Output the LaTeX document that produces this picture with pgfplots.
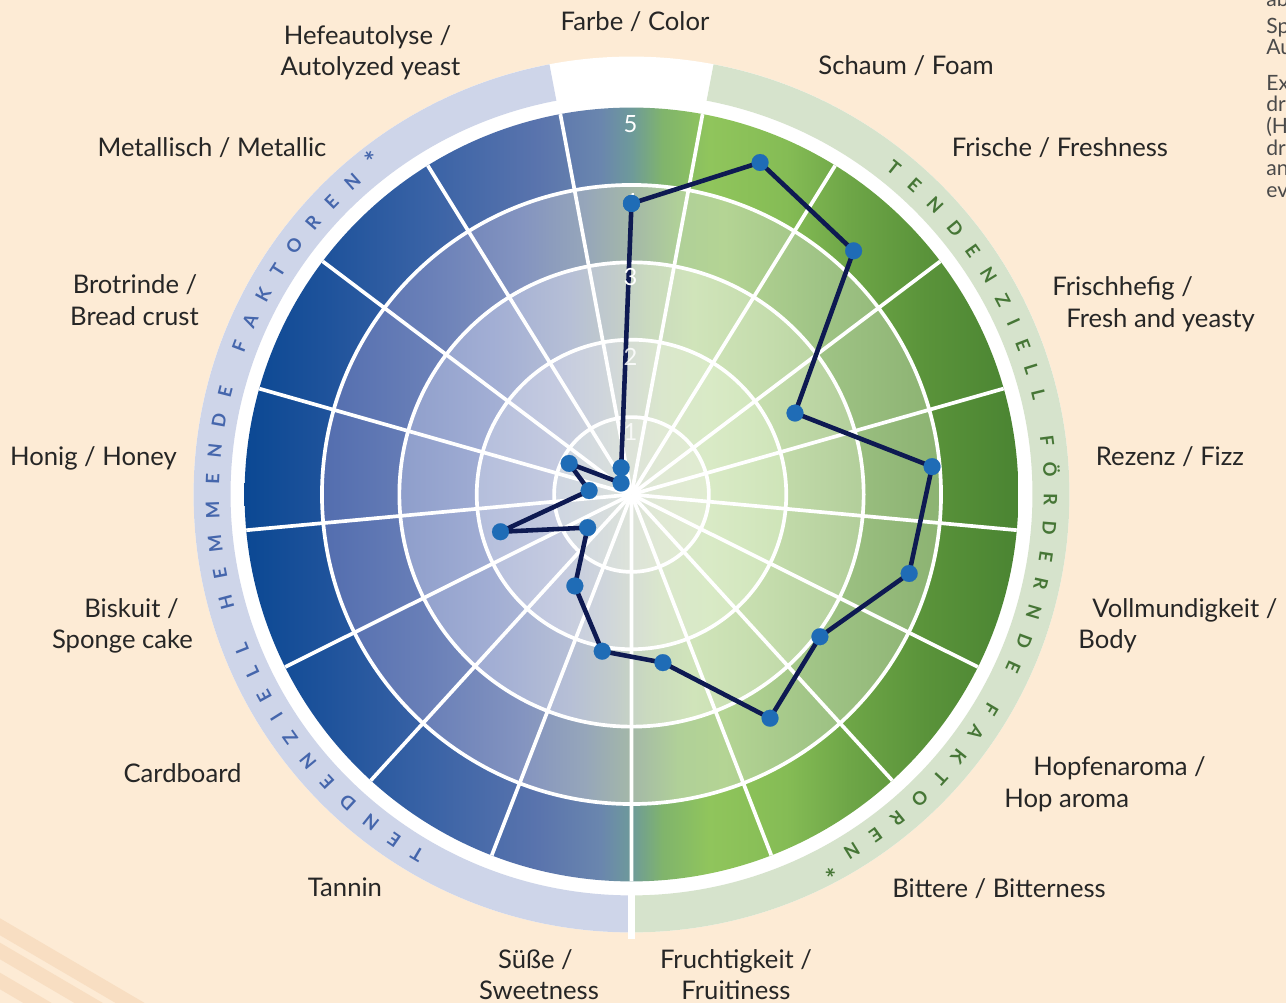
\documentclass[border=0pt]{standalone}
\usepackage{fontspec}
\setmainfont{Lato}
\usepackage{pgfplots}
\pgfplotsset{compat=1.18}
\usepackage{pgfplotstable}
\usetikzlibrary{calc,decorations.text}

\definecolor{bg}{HTML}{FDEBD5}
\definecolor{stripe}{HTML}{F8DEC2}
\definecolor{ringL}{HTML}{CED5E9}
\definecolor{ringR}{HTML}{D6E3CC}
\definecolor{txtL}{HTML}{4566AC}
\definecolor{txtR}{HTML}{467636}
\definecolor{navy}{HTML}{0E1A52}
\definecolor{mblue}{HTML}{1F6CB6}
\definecolor{labc}{HTML}{262626}
\definecolor{sidec}{HTML}{4A4A4A}

% outer band
\definecolor{fa}{HTML}{0B4893}\definecolor{fb}{HTML}{1D529B}\definecolor{fc}{HTML}{3A63A6}
\definecolor{fd}{HTML}{5A74AD}\definecolor{fe}{HTML}{6A86AE}\definecolor{ff}{HTML}{6E9A9A}
\definecolor{fg}{HTML}{80B46C}\definecolor{fh}{HTML}{90C55C}\definecolor{fi}{HTML}{85BC55}
\definecolor{fj}{HTML}{6EA647}\definecolor{fk}{HTML}{5A933A}\definecolor{fl}{HTML}{4A8432}
\pgfdeclarehorizontalshading{sfive}{100bp}{color(0bp)=(fa); color(25bp)=(fa); color(30bp)=(fb); color(37bp)=(fc); color(44bp)=(fd); color(48bp)=(fe); color(50bp)=(ff); color(52bp)=(fg); color(55bp)=(fh); color(60bp)=(fi); color(64bp)=(fj); color(69bp)=(fk); color(75bp)=(fl); color(100bp)=(fl)}
% band 3-4
\definecolor{da}{HTML}{4A64A8}\definecolor{db}{HTML}{5670B0}\definecolor{dc}{HTML}{6A80B8}
\definecolor{dd}{HTML}{8494C0}\definecolor{de}{HTML}{96A6BA}\definecolor{df}{HTML}{A4B8A8}
\definecolor{dg}{HTML}{B0D098}\definecolor{dh}{HTML}{B4D494}\definecolor{di}{HTML}{A0C486}
\definecolor{dj}{HTML}{90B676}\definecolor{dk}{HTML}{84AC68}
\pgfdeclarehorizontalshading{sfour}{100bp}{color(0bp)=(da); color(25bp)=(da); color(31bp)=(db); color(37bp)=(dc); color(43bp)=(dd); color(47bp)=(de); color(50bp)=(df); color(53bp)=(dg); color(56bp)=(dh); color(62bp)=(di); color(68bp)=(dj); color(75bp)=(dk); color(100bp)=(dk)}
% band 2-3
\definecolor{ta}{HTML}{8090C4}\definecolor{tb}{HTML}{8E9ECB}\definecolor{tc}{HTML}{A2AED4}
\definecolor{td}{HTML}{B6BFD6}\definecolor{te}{HTML}{C2CCCA}\definecolor{tf}{HTML}{CADABF}
\definecolor{tg}{HTML}{D0E4BA}\definecolor{th}{HTML}{C4DCAC}\definecolor{ti}{HTML}{B2CE9A}
\definecolor{tj}{HTML}{A4C28A}
\pgfdeclarehorizontalshading{sthree}{100bp}{color(0bp)=(ta); color(25bp)=(ta); color(35bp)=(tb); color(41bp)=(tc); color(46bp)=(td); color(49bp)=(te); color(51bp)=(tf); color(54bp)=(tg); color(59bp)=(th); color(65bp)=(ti); color(75bp)=(tj); color(100bp)=(tj)}
% band 1-2
\definecolor{wa}{HTML}{A8B2D8}\definecolor{wb}{HTML}{B4BEDC}\definecolor{wc}{HTML}{C4CAE0}
\definecolor{wd}{HTML}{CED4DC}\definecolor{we}{HTML}{D6DDD4}\definecolor{wf}{HTML}{DAE7CC}
\definecolor{wg}{HTML}{D9EAC6}\definecolor{wh}{HTML}{CEE4B8}\definecolor{wi}{HTML}{C0D8A8}
\pgfdeclarehorizontalshading{stwo}{100bp}{color(0bp)=(wa); color(25bp)=(wa); color(40bp)=(wb); color(45bp)=(wc); color(48bp)=(wd); color(50bp)=(we); color(52bp)=(wf); color(55bp)=(wg); color(60bp)=(wh); color(75bp)=(wi); color(100bp)=(wi)}
% band 0-1
\definecolor{oa}{HTML}{C8CFE4}\definecolor{ob}{HTML}{CED5E2}\definecolor{oc}{HTML}{D6DCDE}
\definecolor{od}{HTML}{DDE3D9}\definecolor{oe}{HTML}{E0E9D4}\definecolor{of}{HTML}{E0ECD0}
\definecolor{og}{HTML}{D8E8C8}
\pgfdeclarehorizontalshading{sone}{100bp}{color(0bp)=(oa); color(25bp)=(oa); color(45bp)=(ob); color(48bp)=(oc); color(50bp)=(od); color(52bp)=(oe); color(55bp)=(of); color(75bp)=(og); color(100bp)=(og)}

\tikzset{
  lbl/.style={font=\fontsize{14.6}{18}\selectfont, text=labc, inner sep=0pt},
  side/.style={font=\fontsize{12}{14}\selectfont, text=sidec, inner sep=0pt, anchor=base west},
  num/.style={font=\fontsize{13.5}{16}\selectfont, text=white, inner sep=0pt}
}

% index = category position clockwise from top (0 = Farbe / Color), val = rating
\pgfplotstableread{
idx val
0 3.76
1 4.60
2 4.26
3 2.36
4 3.90
5 3.73
6 3.05
7 3.40
8 2.21
9 2.06
10 1.39
11 0.71
12 1.76
13 0.55
14 0.90
15 0.20
16 0.37
17 3.76
}\profile

\begin{document}
\begin{tikzpicture}
\begin{axis}[x=0.02cm, y=0.02cm, scale only axis,
  xmin=-631.5, xmax=654.5, ymin=-508.5, ymax=494.5,
  hide axis, clip=false]

% background
\fill[bg] (axis cs:-631.5,-508.5) rectangle (axis cs:654.5,494.5);
\fill[stripe] (axis cs:-640,-418.8) -- (axis cs:-331.5,-599.5) -- (axis cs:-331.5,-616.5) -- (axis cs:-640,-435.8) -- cycle;
\fill[stripe] (axis cs:-640,-443.2) -- (axis cs:-331.5,-624.2) -- (axis cs:-331.5,-640.8) -- (axis cs:-640,-459.8) -- cycle;
\fill[stripe] (axis cs:-640,-473.2) -- (axis cs:-331.5,-654.2) -- (axis cs:-331.5,-670.8) -- (axis cs:-640,-489.8) -- cycle;

% white disc and outer light ring
\fill[white] (axis cs:0,0) circle[radius=8.76cm];
\fill[ringL] ($(axis cs:0,0)+(100.8:8.02cm)$) arc[start angle=100.8, end angle=270, radius=8.02cm]
   -- ($(axis cs:0,0)+(270:8.76cm)$) arc[start angle=270, end angle=100.8, radius=8.76cm] -- cycle;
\fill[ringR] ($(axis cs:0,0)+(79.2:8.02cm)$) arc[start angle=79.2, end angle=-90, radius=8.02cm]
   -- ($(axis cs:0,0)+(-90:8.76cm)$) arc[start angle=-90, end angle=79.2, radius=8.76cm] -- cycle;
\draw[white, line width=4pt] ($(axis cs:0,0)+(-90:7.6cm)$) -- ($(axis cs:0,0)+(-90:8.9cm)$);

% coloured bands
\begin{scope}
\clip (axis cs:0,0) circle[radius=7.74cm];
\shade[shading=sfive] (axis cs:-387,-387) rectangle (axis cs:387,387);
\end{scope}
\begin{scope}
\clip (axis cs:0,0) circle[radius=6.192cm];
\shade[shading=sfour] (axis cs:-387,-387) rectangle (axis cs:387,387);
\end{scope}
\begin{scope}
\clip (axis cs:0,0) circle[radius=4.644cm];
\shade[shading=sthree] (axis cs:-387,-387) rectangle (axis cs:387,387);
\end{scope}
\begin{scope}
\clip (axis cs:0,0) circle[radius=3.096cm];
\shade[shading=stwo] (axis cs:-387,-387) rectangle (axis cs:387,387);
\end{scope}
\begin{scope}
\clip (axis cs:0,0) circle[radius=1.548cm];
\shade[shading=sone] (axis cs:-387,-387) rectangle (axis cs:387,387);
\end{scope}

% grid
\draw[white, line width=2.1pt] (axis cs:0,0) circle[radius=1.548cm];
\draw[white, line width=2.1pt] (axis cs:0,0) circle[radius=3.096cm];
\draw[white, line width=2.1pt] (axis cs:0,0) circle[radius=4.644cm];
\draw[white, line width=2.1pt] (axis cs:0,0) circle[radius=6.192cm];
\pgfplotsinvokeforeach{0,...,16}{
  \draw[white, line width=2.1pt] (axis cs:0,0) -- ($(axis cs:0,0)+({79.412-21.176*#1}:7.74cm)$);
}

% ring texts
\path[decorate, decoration={text along path, text align=fit to path,
  text={|\fontsize{10.5}{12}\selectfont\bfseries\color{txtL}|TENDENZIELL HEMMENDE FAKTOREN|\fontsize{15}{15}\selectfont\bfseries\color{txtL}|*}}]
  ($(axis cs:0,0)+(240:8.25cm)$) arc[start angle=240, end angle=127, radius=8.25cm];
\path[decorate, decoration={text along path, text align=fit to path,
  text={|\fontsize{10.5}{12}\selectfont\bfseries\color{txtR}|TENDENZIELL FÖRDERNDE FAKTOREN|\fontsize{15}{15}\selectfont\bfseries\color{txtR}|*}}]
  ($(axis cs:0,0)+(52:8.25cm)$) arc[start angle=52, end angle=-63, radius=8.25cm];

% profile
\addplot[color=navy, line width=2.6pt, line join=round,
  mark=*, mark size=4.8pt, mark options={solid, fill=mblue, draw=mblue, line width=0.1pt}]
  table[x expr={77.4*\thisrow{val}*cos(90-\thisrow{idx}*360/17)},
        y expr={77.4*\thisrow{val}*sin(90-\thisrow{idx}*360/17)}] {\profile};

% scale numbers
\node[num] at (axis cs:-1,370.5) {5};
\node[num] at (axis cs:-1,292) {4};
\node[num] at (axis cs:-1,217.5) {3};
\node[num, text opacity=0.85] at (axis cs:-1,137.5) {2};
\node[num, text opacity=0.8] at (axis cs:-1,62.5) {1};

% category labels
\node[lbl, anchor=base] at (axis cs:3.5,463.5) {Farbe / Color};
\node[lbl, anchor=base] at (axis cs:274.5,419.5) {Schaum / Foam};
\node[lbl, anchor=base] at (axis cs:428.5,337.5) {Frische / Freshness};
\node[lbl, anchor=base west] at (axis cs:420.5,198.5) {Frischhefig /};
\node[lbl, anchor=base west] at (axis cs:434.5,166.5) {Fresh and yeasty};
\node[lbl, anchor=base] at (axis cs:538.5,28.5) {Rezenz / Fizz};
\node[lbl, anchor=base west] at (axis cs:460.5,-123.5) {Vollmundigkeit /};
\node[lbl, anchor=base west] at (axis cs:446.5,-154.5) {Body};
\node[lbl, anchor=base west] at (axis cs:401.5,-281.5) {Hopfenaroma /};
\node[lbl, anchor=base west] at (axis cs:372.5,-313.5) {Hop aroma};
\node[lbl, anchor=base] at (axis cs:367.5,-403.5) {Bittere / Bitterness};
\node[lbl, anchor=base] at (axis cs:104.5,-474.5) {Fruchtigkeit /};
\node[lbl, anchor=base] at (axis cs:104.5,-505.5) {Fruitiness};
\node[lbl, anchor=base] at (axis cs:-96,-474.5) {Süße /};
\node[lbl, anchor=base] at (axis cs:-92.5,-505.5) {Sweetness};
\node[lbl, anchor=base] at (axis cs:-286.5,-402.5) {Tannin};
\node[lbl, anchor=base] at (axis cs:-449,-288.5) {Cardboard};
\node[lbl, anchor=base] at (axis cs:-500,-123.5) {Biskuit /};
\node[lbl, anchor=base] at (axis cs:-509,-154.5) {Sponge cake};
\node[lbl, anchor=base] at (axis cs:-538,28.5) {Honig / Honey};
\node[lbl, anchor=base] at (axis cs:-496.5,200.5) {Brotrinde /};
\node[lbl, anchor=base] at (axis cs:-497,168.5) {Bread crust};
\node[lbl, anchor=base] at (axis cs:-419.5,337.5) {Metallisch / Metallic};
\node[lbl, anchor=base] at (axis cs:-264,449.5) {Hefeautolyse /};
\node[lbl, anchor=base] at (axis cs:-261,418.5) {Autolyzed yeast};

% side text, cut off at the right edge as in the reference
\node[side] at (axis cs:634.5,488) {ablesen};
\node[side] at (axis cs:634.5,461) {Spider};
\node[side] at (axis cs:634.5,440) {Aufbau};
\node[side] at (axis cs:634.5,404) {Example};
\node[side] at (axis cs:634.5,383) {drink};
\node[side] at (axis cs:634.5,361) {(Hefe};
\node[side] at (axis cs:634.5,339) {drink};
\node[side] at (axis cs:634.5,319) {and};
\node[side] at (axis cs:634.5,297) {evaluated};
\end{axis}
\pgfresetboundingbox
\path[use as bounding box] (current axis.south west) rectangle (current axis.north east);
\end{tikzpicture}
\end{document}
